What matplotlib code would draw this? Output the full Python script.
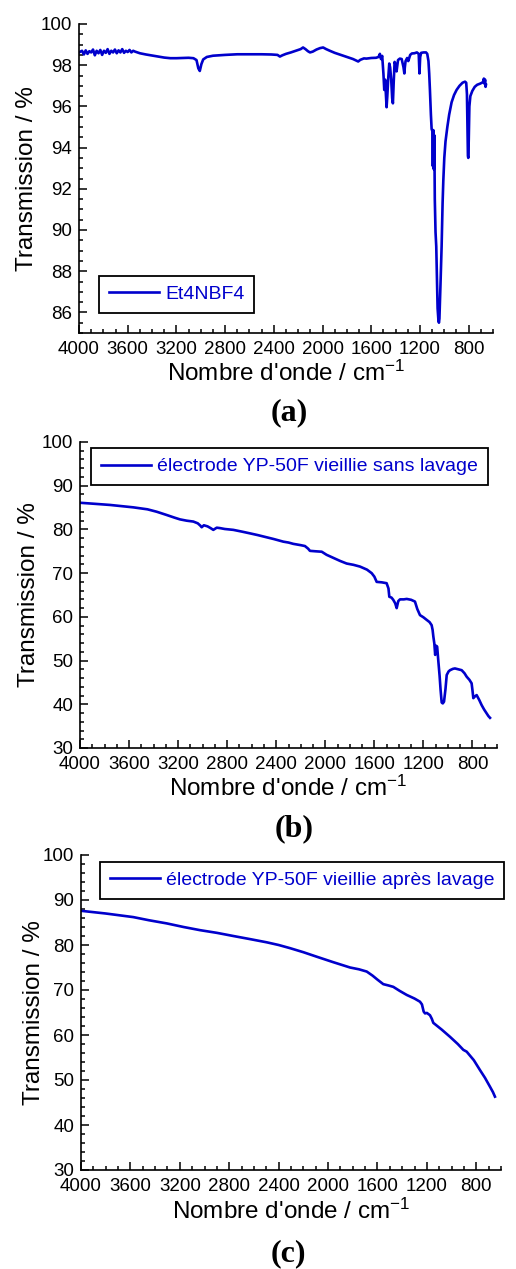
import numpy as np
import matplotlib.pyplot as plt
from matplotlib.ticker import MultipleLocator

plt.rcParams['font.family'] = ['Liberation Sans', 'DejaVu Sans']
plt.rcParams['mathtext.default'] = 'regular'

BLUE = '#0000cc'

# (a) Et4NBF4 : (nombre d'onde, transmission)
spec_a = [(4000, 98.62), (3975, 98.70), (3960, 98.52), (3945, 98.72), (3930, 98.55),
          (3915, 98.68), (3900, 98.62), (3885, 98.76), (3870, 98.48), (3855, 98.70),
          (3840, 98.58), (3825, 98.74), (3810, 98.50), (3795, 98.70), (3780, 98.60),
          (3765, 98.78), (3750, 98.55), (3735, 98.70), (3720, 98.62), (3705, 98.76),
          (3690, 98.58), (3675, 98.72), (3660, 98.62), (3645, 98.78), (3630, 98.60),
          (3615, 98.70), (3600, 98.64), (3585, 98.74), (3570, 98.62), (3555, 98.70),
          (3540, 98.66), (3500, 98.58), (3450, 98.52), (3400, 98.47), (3350, 98.42),
          (3300, 98.37), (3250, 98.34), (3200, 98.34), (3150, 98.35), (3100, 98.36),
          (3060, 98.34), (3035, 98.25), (3020, 97.85), (3008, 97.72), (2995, 98.05),
          (2980, 98.28), (2950, 98.40), (2900, 98.46), (2800, 98.50), (2700, 98.53),
          (2600, 98.53), (2500, 98.53), (2420, 98.52), (2370, 98.50), (2350, 98.42),
          (2330, 98.48), (2300, 98.55), (2260, 98.62), (2220, 98.70), (2180, 98.78),
          (2160, 98.86), (2140, 98.78), (2120, 98.68), (2103, 98.62), (2080, 98.66),
          (2050, 98.76), (2020, 98.83), (1995, 98.86), (1970, 98.78), (1940, 98.70),
          (1900, 98.60), (1850, 98.50), (1800, 98.40), (1750, 98.30), (1720, 98.22),
          (1707, 98.18), (1690, 98.26), (1660, 98.33), (1640, 98.32), (1600, 98.35),
          (1560, 98.36), (1540, 98.40), (1529, 98.55), (1520, 98.30), (1510, 98.45),
          (1500, 97.60), (1493, 96.80), (1486, 97.30), (1480, 96.60), (1474, 95.96),
          (1468, 96.50), (1460, 97.40), (1452, 98.08), (1445, 97.90), (1436, 97.30),
          (1428, 96.40), (1422, 96.15), (1416, 97.10), (1408, 98.16), (1398, 98.00),
          (1392, 97.70), (1380, 98.25), (1365, 98.32), (1350, 98.30), (1335, 97.90),
          (1328, 97.60), (1324, 97.90), (1318, 98.20), (1305, 98.35), (1296, 98.20),
          (1280, 98.50), (1266, 98.57), (1245, 98.58), (1225, 98.62), (1210, 98.55),
          (1204, 97.60), (1198, 98.40), (1190, 98.60), (1170, 98.62), (1150, 98.62),
          (1140, 98.55), (1130, 98.20), (1124, 97.60), (1118, 96.80), (1110, 95.60),
          (1104, 94.90), (1098, 94.80), (1094, 93.10), (1090, 94.85), (1086, 92.95),
          (1082, 94.60), (1078, 91.50), (1072, 89.90), (1066, 89.20), (1060, 87.50),
          (1055, 86.20), (1048, 85.60), (1044, 85.50), (1040, 85.70), (1035, 86.60),
          (1030, 87.60), (1022, 89.20), (1014, 91.30), (1008, 92.40), (1000, 93.50),
          (990, 94.30), (975, 95.00), (960, 95.60), (940, 96.20), (920, 96.55),
          (899, 96.80), (875, 97.00), (850, 97.15), (830, 97.20), (820, 97.15),
          (814, 96.60), (810, 95.00), (806, 93.60), (803, 93.50), (799, 94.40),
          (794, 96.00), (786, 96.50), (770, 96.75), (750, 96.95), (730, 97.05),
          (708, 97.10), (690, 97.15), (680, 97.20), (675, 97.35), (670, 97.10),
          (665, 97.30), (661, 96.95), (658, 97.05)]

# (b) électrode YP-50F vieillie sans lavage
spec_b = [(4000, 86.10), (3900, 85.90), (3755, 85.60), (3565, 85.05), (3450, 84.60),
          (3375, 84.05), (3293, 83.30), (3230, 82.70), (3185, 82.30), (3130, 82.00),
          (3076, 81.80), (3040, 81.40), (3020, 80.90), (3008, 80.50), (2990, 80.95),
          (2960, 80.70), (2935, 80.30), (2913, 79.90), (2885, 80.40), (2858, 80.30),
          (2820, 80.10), (2750, 79.90), (2680, 79.50), (2614, 79.10), (2550, 78.70),
          (2478, 78.20), (2420, 77.80), (2342, 77.20), (2300, 77.00), (2261, 76.70),
          (2200, 76.40), (2166, 76.20), (2140, 75.60), (2125, 75.10), (2080, 75.00),
          (2029, 74.90), (1990, 74.20), (1935, 73.50), (1880, 72.80), (1826, 72.20),
          (1770, 71.90), (1717, 71.50), (1660, 70.80), (1622, 70.00), (1600, 69.20),
          (1581, 68.00), (1540, 67.90), (1500, 67.70), (1485, 66.50), (1478, 64.60),
          (1460, 64.40), (1446, 63.90), (1430, 63.10), (1418, 62.00), (1405, 63.60),
          (1391, 64.00), (1360, 64.00), (1336, 64.10), (1300, 63.90), (1269, 63.50),
          (1250, 61.80), (1228, 60.40), (1200, 59.90), (1173, 59.30), (1150, 58.80),
          (1133, 58.10), (1125, 57.00), (1119, 55.50), (1111, 53.90), (1104, 51.30),
          (1097, 53.40), (1088, 53.20), (1079, 50.10), (1068, 46.50), (1060, 43.30),
          (1051, 40.40), (1042, 40.20), (1032, 40.60), (1020, 43.50), (1010, 46.70),
          (995, 47.50), (983, 47.80), (960, 48.10), (943, 48.20), (915, 48.00),
          (888, 47.80), (865, 47.10), (847, 46.30), (825, 45.60), (807, 44.80),
          (800, 43.20), (793, 41.40), (780, 41.80), (766, 42.10), (745, 41.00),
          (725, 39.80), (705, 38.80), (684, 37.90), (670, 37.30), (657, 36.90)]

# (c) électrode YP-50F vieillie après lavage
spec_c = [(4000, 87.60), (3800, 87.00), (3577, 86.20), (3450, 85.50), (3306, 84.80),
          (3170, 84.00), (3037, 83.30), (2900, 82.70), (2767, 82.00), (2630, 81.30),
          (2497, 80.60), (2400, 80.00), (2308, 79.30), (2200, 78.40), (2092, 77.40),
          (1960, 76.20), (1822, 75.00), (1750, 74.60), (1687, 74.10), (1640, 73.20),
          (1600, 72.30), (1553, 71.30), (1510, 71.00), (1472, 70.70), (1420, 69.80),
          (1363, 68.90), (1300, 68.10), (1256, 67.40), (1240, 66.80), (1226, 65.20),
          (1215, 64.80), (1200, 64.90), (1175, 64.40), (1160, 63.60), (1148, 62.70),
          (1080, 61.20), (1013, 59.60), (950, 58.00), (905, 56.70), (878, 56.30),
          (820, 54.40), (770, 52.20), (730, 50.50), (689, 48.50), (665, 47.30),
          (649, 46.30)]

wn_a, tr_a = zip(*spec_a)
wn_b, tr_b = zip(*spec_b)
wn_c, tr_c = zip(*spec_c)

W, H = 516, 1269
fig = plt.figure(figsize=(W / 100, H / 100), dpi=100)


def px_axes(l, t, r, b):
    return fig.add_axes([l / W, 1 - b / H, (r - l) / W, (b - t) / H])


panels = [
    dict(rect=(79, 24, 493, 333), x=wn_a, y=tr_a, ylim=(85, 100), major=2, minor=0.5,
         label='Et4NBF4', anchor=(0.048, 0.185), tag='(a)', tagpos=(289, 413),
         ylab_x=-0.10),
    dict(rect=(80, 442, 497, 748), x=wn_b, y=tr_b, ylim=(30, 100), major=10, minor=2,
         label='électrode YP-50F vieillie sans lavage', anchor=(0.026, 0.980),
         tag='(b)', tagpos=(294, 829), ylab_x=-0.095),
    dict(rect=(81, 855, 501, 1170), x=wn_c, y=tr_c, ylim=(30, 100), major=10, minor=2,
         label='électrode YP-50F vieillie après lavage', anchor=(0.045, 0.978),
         tag='(c)', tagpos=(288, 1254), ylab_x=-0.085),
]

for p in panels:
    ax = px_axes(*p['rect'])
    ax.plot(p['x'], p['y'], color=BLUE, lw=1.9, label=p['label'])
    ax.set_xlim(4000, 600)
    ax.set_ylim(*p['ylim'])
    ax.xaxis.set_minor_locator(MultipleLocator(100))
    ax.yaxis.set_major_locator(MultipleLocator(p['major']))
    ax.yaxis.set_minor_locator(MultipleLocator(p['minor']))
    ax.set_xticks([4000, 3600, 3200, 2800, 2400, 2000, 1600, 1200, 800])
    ax.spines['top'].set_visible(False)
    ax.spines['right'].set_visible(False)
    for s in ('left', 'bottom'):
        ax.spines[s].set_linewidth(1.2)
    ax.tick_params(which='both', direction='in', width=1.1, labelsize=13.5)
    ax.tick_params(axis='x', pad=6)
    ax.tick_params(axis='y', pad=5)
    ax.tick_params(which='major', length=6)
    ax.tick_params(which='minor', length=3)
    ax.set_xlabel("Nombre d'onde / cm$^{-1}$", fontsize=17.5)
    ax.set_ylabel('Transmission / %', fontsize=17.5)
    ax.xaxis.set_label_coords(0.5, -0.09)
    ax.yaxis.set_label_coords(p['ylab_x'], 0.5)
    leg = ax.legend(loc='upper left', bbox_to_anchor=p['anchor'], borderaxespad=0,
                    fontsize=14, labelcolor='linecolor', fancybox=False,
                    handlelength=2.6, handletextpad=0.3, borderpad=0.5, framealpha=1)
    leg.get_frame().set_edgecolor('black')
    leg.get_frame().set_linewidth(1.3)
    tx, ty = p['tagpos']
    fig.text(tx / W, 1 - ty / H, p['tag'], family='Liberation Serif', weight='bold',
             fontsize=23, ha='center', va='center')

fig.savefig('out.png', dpi=100)
